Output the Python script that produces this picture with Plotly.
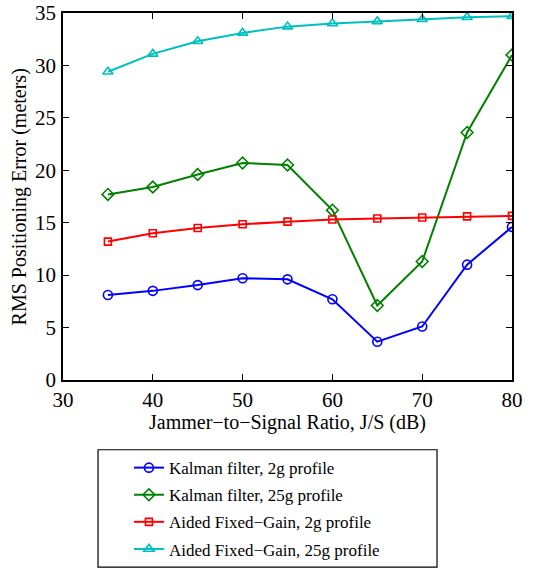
import plotly.graph_objects as go

js = [35, 40, 45, 50, 55, 60, 65, 70, 75, 80]
kalman_2g = [8.1, 8.5, 9.05, 9.7, 9.6, 7.7, 3.65, 5.1, 11.0, 14.6]
kalman_25g = [17.7, 18.4, 19.6, 20.7, 20.5, 16.2, 7.1, 11.3, 23.6, 31.0]
afg_2g = [13.2, 14.0, 14.5, 14.85, 15.1, 15.3, 15.4, 15.5, 15.6, 15.65]
afg_25g = [29.4, 31.1, 32.3, 33.1, 33.7, 34.0, 34.2, 34.4, 34.6, 34.7]

names = ["Kalman filter, 2g profile", "Kalman filter, 25g profile",
         "Aided Fixed\u2212Gain, 2g profile", "Aided Fixed\u2212Gain, 25g profile"]
series = [kalman_2g, kalman_25g, afg_2g, afg_25g]
colors = ["#0000ff", "#008000", "#ff0000", "#00bfbf"]
symbols = ["circle-open", "diamond-open", "square-open", "triangle-up-open"]
sizes = [9, 9, 7, 9]

x_title = "Jammer\u2212to\u2212Signal Ratio, J/S (dB)"
y_title = "RMS Positioning Error (meters)"

FONT = "Liberation Serif, Times New Roman, serif"
fig = go.Figure()
for i, (n, s) in enumerate(zip(names, series)):
    fig.add_trace(go.Scatter(
        x=js, y=s, name=n, mode="lines+markers", legendgroup=f"g{i}",
        line=dict(color=colors[i], width=2),
        marker=dict(symbol=symbols[i], size=sizes[i], color=colors[i],
                    line=dict(width=1.6, color=colors[i])),
    ))

axis_common = dict(showline=True, linecolor="black", linewidth=1.5, mirror="ticks",
                   ticks="inside", ticklen=6, tickcolor="black", showgrid=False,
                   zeroline=False, tickfont=dict(family=FONT, size=21, color="black"))
fig.update_xaxes(range=[30, 80], dtick=10, **axis_common)
fig.update_yaxes(range=[0, 35], dtick=5, ticklabelstandoff=1, **axis_common)

fig.add_annotation(text=x_title, xref="paper", yref="paper", x=0.5, y=-0.115,
                   xanchor="center", yanchor="middle", showarrow=False,
                   font=dict(family=FONT, size=20, color="black"))
fig.add_annotation(text=y_title, xref="paper", yref="paper", x=-0.096, y=0.5,
                   xanchor="center", yanchor="middle", showarrow=False, textangle=-90,
                   font=dict(family=FONT, size=20, color="black"))

fig.add_shape(type="rect", xref="paper", yref="paper",
              x0=0.078, x1=0.833, y0=-0.51, y1=-0.19,
              line=dict(color="black", width=1.2), fillcolor="white", layer="below")

fig.update_layout(
    width=535, height=569,
    margin=dict(l=63, r=23, t=13, b=189, autoexpand=False),
    plot_bgcolor="white", paper_bgcolor="white",
    font=dict(family=FONT, color="black"),
    legend=dict(xref="container", yref="container", x=0.241, y=0.209,
                xanchor="left", yanchor="top",
                bgcolor="rgba(0,0,0,0)", borderwidth=0,
                font=dict(family=FONT, size=17, color="black"),
                tracegroupgap=2, traceorder="grouped"),
    showlegend=True,
)

fig.write_html("out.html")
